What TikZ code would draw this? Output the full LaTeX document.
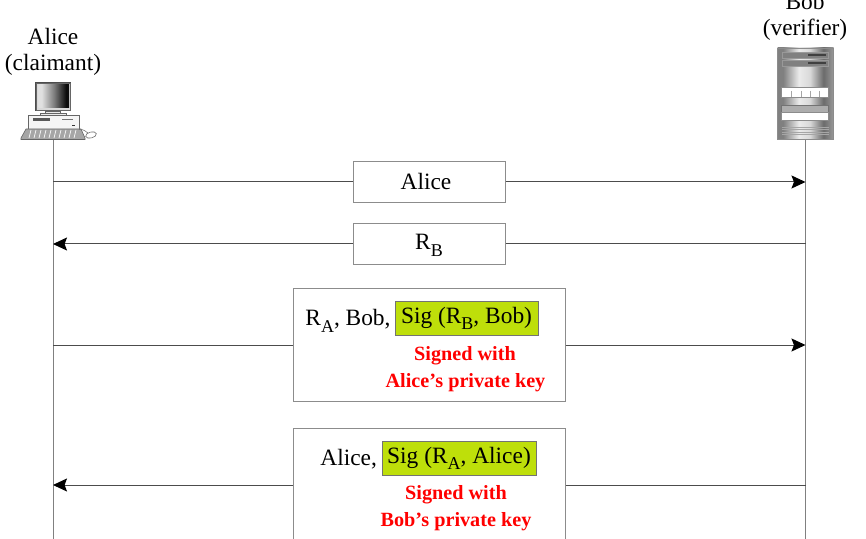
\documentclass[tikz,border=0pt]{standalone}
\usepackage{fontspec}
\setmainfont{Liberation Serif}
\usetikzlibrary{arrows.meta}
\pgfdeclarehorizontalshading{scrshade}{100bp}{color(0bp)=(black!12); color(30bp)=(black!12); color(50bp)=(black!50); color(70bp)=(black!95); color(100bp)=(black!95)}
\pgfdeclarehorizontalshading{srvshade}{100bp}{color(0bp)=(black!50); color(30bp)=(black!50); color(44bp)=(black!8); color(54bp)=(black!15); color(66bp)=(black!58); color(74bp)=(black!42); color(100bp)=(black!45)}
\definecolor{siggreen}{HTML}{BEDF0A}
\newcommand{\subtxt}[1]{\raisebox{-0.27em}{\fontsize{9}{9}\selectfont #1}}
\tikzset{
  lifeline/.style={line width=0.5pt, draw=black!50},
  msgline/.style={line width=0.5pt, draw=black!70},
  msgtip/.style={-{Stealth[length=7pt,width=6.5pt,inset=1.2pt,color=black]}, line width=0.5pt, draw=black!70},
  msgbox/.style={draw=black!45, fill=white, line width=0.5pt, inner sep=0pt},
  sigbox/.style={draw=black!55, fill=siggreen, line width=0.4pt, inner sep=0pt, minimum height=17pt, text height=8.5pt, text depth=3.5pt, font=\fontsize{11.7}{13.5}\selectfont},
  plaintxt/.style={inner sep=0pt, anchor=base, font=\fontsize{11.7}{13.5}\selectfont},
  redtxt/.style={inner sep=0pt, anchor=base, text=red, font=\fontsize{10.1}{12}\selectfont\bfseries},
  hostpart/.style={draw=black!60, line width=0.3pt, fill=black!8},
  srvpart/.style={draw=black!45, line width=0.3pt, fill=white},
}
\begin{document}
\begin{tikzpicture}[x=0.5pt,y=-0.5pt]
\useasboundingbox (0,0) rectangle (866,539);
\clip (0,0) rectangle (866,539);
\coordinate (alicetop) at (53,140);
\coordinate (alicebot) at (53,539);
\coordinate (bobtop) at (805.5,140);
\coordinate (bobbot) at (805.5,539);
\coordinate (alicem1) at (53,182);
\coordinate (alicem2) at (53,244);
\coordinate (alicem3) at (53,345);
\coordinate (alicem4) at (53,485);
\coordinate (bobm1) at (805.5,182);
\coordinate (bobm2) at (805.5,244);
\coordinate (bobm3) at (805.5,345);
\coordinate (bobm4) at (805.5,485);
\draw[lifeline] (alicetop) -- (alicebot);
\draw[lifeline] (bobtop) -- (bobbot);
\node[msgbox, minimum width=76pt, minimum height=20.5pt] (msgone) at (429,182) {};
\node[msgbox, minimum width=76pt, minimum height=20.5pt] (msgtwo) at (429,244) {};
\node[msgbox, minimum width=136pt, minimum height=56pt] (msgthree) at (429,345) {};
\node[msgbox, minimum width=136pt, minimum height=57pt] (msgfour) at (429,485) {};
\draw[msgline] (alicem1) -- (msgone);
\draw[msgtip] (msgone) -- (bobm1);
\draw[msgline] (bobm2) -- (msgtwo);
\draw[msgtip] (msgtwo) -- (alicem2);
\draw[msgline] (alicem3) -- (msgthree);
\draw[msgtip] (msgthree) -- (bobm3);
\draw[msgline] (bobm4) -- (msgfour);
\draw[msgtip] (msgfour) -- (alicem4);
\node[plaintxt] (alicename) at (53,45) {Alice};
\node[plaintxt] (aliceclaim) at (53,71) {(claimant)};
\node[plaintxt] (bobname) at (805,10) {Bob};
\node[plaintxt] (bobverif) at (805,36) {(verifier)};
\node[plaintxt] (txtone) at (426,190) {Alice};
\node[plaintxt] (txttwo) at (429,250) {R\subtxt{B}};
\node[plaintxt, anchor=base west] (txtthree) at (305,326) {R\subtxt{A}, Bob,};
\node[sigbox, minimum width=71.5pt] (sigone) at (466.5,318) {Sig (R\subtxt{B}, Bob)};
\node[redtxt] (redone) at (465,360) {Signed with};
\node[redtxt] (redtwo) at (465.5,387) {Alice’s private key};
\node[plaintxt, anchor=base west] (txtfour) at (320,465) {Alice,};
\node[sigbox, minimum width=77pt] (sigtwo) at (459,458) {Sig (R\subtxt{A}, Alice)};
\node[redtxt] (redthree) at (456,499) {Signed with};
\node[redtxt] (redfour) at (456,526) {Bob’s private key};
\fill[black!70] (35,82) rectangle (71,111);
\draw[black!60, line width=0.3pt, fill=black!15] (36,83) rectangle (70,110);
\shade[shading=scrshade] (38.5,85) rectangle (69,107.5);
\draw[hostpart] (45,111) rectangle (60,113);
\draw[hostpart] (40,113) rectangle (66,115.5);
\draw[hostpart, fill=black!4] (28,115.5) rectangle (79,129);
\fill[black!65] (33,118.5) rectangle (50,121.5);
\fill[black!55] (62,119) rectangle (73,120);
\fill[black!80] (72,125) rectangle (75,126.5);
\draw[black!60, line width=0.3pt, fill=black!35] (26,129) -- (81,129) -- (85,138) -- (85,139.5) -- (21,139.5) -- (21,138) -- cycle;
\foreach \keyx in {31,36,41,46,51,56,61,66,71,76}
  \draw[white, line width=0.35pt] (\keyx,130) -- ({\keyx-2},138);
\draw[black!55, line width=0.3pt] (79,129.5) .. controls (84,129) and (86,132) .. (88,133);
\draw[black!60, line width=0.3pt, fill=white, rotate around={15:(91,135)}] (91,135) ellipse [x radius=5.5, y radius=3];
\shade[shading=srvshade] (777.5,48) rectangle (833.5,139.5);
\draw[black!45, line width=0.3pt] (777.5,48) rectangle (833.5,139.5);
\foreach \sloty in {52.5,60.5} {
  \draw[black!40, line width=0.3pt, fill=black!50] (782,\sloty) rectangle (828.5,{\sloty+5.5});
  \fill[black!75] (808,{\sloty+2}) rectangle (826,{\sloty+3.5});
}
\draw[srvpart] (781.5,87) rectangle (828,97);
\foreach \tickx in {791,801,810,819}
  \draw[black!35, line width=0.3pt] (\tickx,91) -- (\tickx,97);
\draw[black!55, line width=0.3pt, fill=black!32] (781.5,105) rectangle (828,112);
\draw[srvpart] (781.5,112) rectangle (828,120);
\foreach \venty in {127.5,130,132.5,135}
  \draw[black!35, line width=0.5pt] (781.5,\venty) -- (829,\venty);
\end{tikzpicture}
\end{document}
